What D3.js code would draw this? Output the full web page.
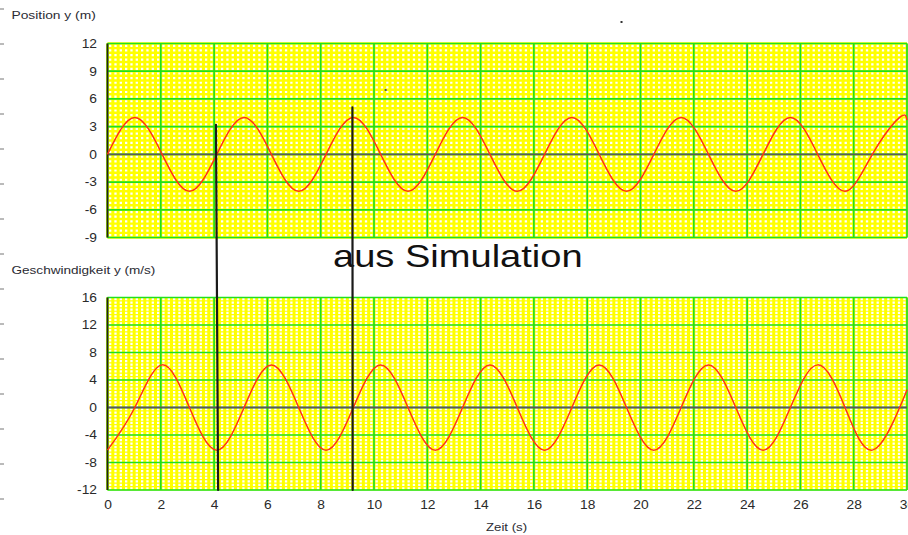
<!DOCTYPE html>
<html>
<head>
<meta charset="utf-8">
<script src="https://cdn.jsdelivr.net/npm/d3@7/dist/d3.min.js"></script>
<style>
  html, body { margin: 0; padding: 0; background: #fff; }
  svg { display: block; }
  text { font-family: "Liberation Sans", Arial, sans-serif; }
</style>
</head>
<body>
<script>
// ---- data ----
const times = [0, 1.025, 2.05, 3.075, 4.1, 5.125, 6.15, 7.175, 8.2, 9.225, 10.25, 11.275,
  12.3, 13.325, 14.35, 15.375, 16.4, 17.425, 18.45, 19.475, 20.5, 21.525, 22.55, 23.575,
  24.6, 25.625, 26.65, 27.675, 28.7, 29.725, 30];
const position = [0, 4, 0, -4, 0, 4, 0, -4, 0, 4, 0, -4,
  0, 4, 0, -4, 0, 4, 0, -4, 0, 4, 0, -4,
  0, 4, 0, -4, 0, 4, 3.7];
const velocity = [-6.2, 0, 6.2, 0, -6.2, 0, 6.2, 0, -6.2, 0, 6.2, 0,
  -6.2, 0, 6.2, 0, -6.2, 0, 6.2, 0, -6.2, 0, 6.2, 0,
  -6.2, 0, 6.2, 0, -6.2, 0, 2.6];
const xTickLabels = [0, 2, 4, 6, 8, 10, 12, 14, 16, 18, 20, 22, 24, 26, 28, 30];
const posTickLabels = [12, 9, 6, 3, 0, -3, -6, -9];
const velTickLabels = [16, 12, 8, 4, 0, -4, -8, -12];
const posTitle = "Position y (m)";
const velTitle = "Geschwindigkeit y (m/s)";
const xTitle = "Zeit (s)";
const annotationText = "aus Simulation";
// hand-drawn marker lines: [t, position] at top end, [t, velocity] at bottom end
const markers = [
  { top: [4.07, 3.2], bottom: [4.15, -12] },
  { top: [9.19, 5.1], bottom: [9.2, -12] }
];

const W = 908, H = 535;
const svg = d3.select("body").append("svg").attr("width", W).attr("height", H);

const x = d3.scaleLinear().domain([0, 30]).range([107.5, 907]);
const yPos = d3.scaleLinear().domain([-9, 12]).range([237.5, 43.5]);
const yVel = d3.scaleLinear().domain([-12, 16]).range([490, 297.5]);

const GREEN = "#1fe01f", YELLOW = "#ffff00", RED = "#ff3414";
const fmt = d => String(d);

// left-edge stray ticks (cropped axis in the original)
const edge = d3.scaleLinear().domain([0, 14]).range([8.5, 498.5]);
svg.append("g").attr("transform", "translate(4,0)")
  .call(d3.axisLeft(edge).ticks(14).tickSize(4).tickFormat(""))
  .call(g => g.select(".domain").remove())
  .call(g => g.selectAll("line").attr("stroke", "#777"));

function panel(y, majorTicks, minorStep, values) {
  const [y0, y1] = y.domain();
  const g = svg.append("g");
  const left = x(0), right = x(30), top = y(y1), bottom = y(y0);
  g.append("rect").attr("x", left).attr("y", top)
    .attr("width", right - left).attr("height", bottom - top).attr("fill", "#fff");

  // minor grid
  const xMinor = d3.range(0, 30.0001, 0.2);
  const yMinor = d3.range(y0, y1 + 0.0001, minorStep);
  const dx = x(0.2) - x(0), dy = y(y0) - y(y0 + minorStep);
  g.append("g").selectAll("line").data(xMinor).join("line")
    .attr("x1", d => x(d)).attr("x2", d => x(d)).attr("y1", top).attr("y2", bottom)
    .attr("stroke", YELLOW).attr("stroke-width", dx - 2.3);
  g.append("g").selectAll("line").data(yMinor).join("line")
    .attr("x1", left).attr("x2", right).attr("y1", d => y(d)).attr("y2", d => y(d))
    .attr("stroke", YELLOW).attr("stroke-width", Math.max(dy - 2.2, 1.2));

  // major grid
  g.append("g").selectAll("line").data(xTickLabels).join("line")
    .attr("x1", d => x(d)).attr("x2", d => x(d)).attr("y1", top).attr("y2", bottom)
    .attr("stroke", GREEN).attr("stroke-width", 1.7);
  g.append("g").selectAll("line").data(majorTicks).join("line")
    .attr("x1", left).attr("x2", right).attr("y1", d => y(d)).attr("y2", d => y(d))
    .attr("stroke", GREEN).attr("stroke-width", 1.7);

  // zero line
  g.append("line").attr("x1", left).attr("x2", right).attr("y1", y(0)).attr("y2", y(0))
    .attr("stroke", "#5a5a5a").attr("stroke-width", 1.8);
  // left axis line
  g.append("line").attr("x1", left).attr("x2", left).attr("y1", top).attr("y2", bottom)
    .attr("stroke", "#222").attr("stroke-width", 1.8);

  // y tick labels
  const ax = g.append("g").attr("transform", "translate(97,0)")
    .call(d3.axisLeft(y).tickValues(majorTicks).tickSize(0).tickPadding(0).tickFormat(fmt));
  ax.select(".domain").remove();
  ax.selectAll("text").attr("font-size", 12).attr("fill", "#2a2a2a")
    .attr("font-family", "Liberation Sans, Arial, sans-serif")
    .attr("transform", "scale(1.15,1)");

  // curve
  const line = d3.line().x((d, i) => x(times[i])).y(d => y(d)).curve(d3.curveNatural);
  g.append("path").datum(values).attr("d", line)
    .attr("fill", "none").attr("stroke", RED).attr("stroke-width", 1.5);
}

panel(yPos, posTickLabels, 0.5, position);
panel(yVel, velTickLabels, 0.5, velocity);

// x axis labels
const xa = svg.append("g").attr("transform", "translate(0,500)")
  .call(d3.axisBottom(x).tickValues(xTickLabels).tickSize(0).tickPadding(0).tickFormat(fmt));
xa.select(".domain").remove();
xa.selectAll("text").attr("font-size", 12).attr("fill", "#2a2a2a")
  .attr("font-family", "Liberation Sans, Arial, sans-serif")
  .attr("transform", "scale(1.15,1)");

// titles
function stretchedText(str, px, py, size, sx) {
  svg.append("text").attr("transform", `translate(${px},${py}) scale(${sx},1)`)
    .attr("font-size", size).attr("fill", "#2b2b33").text(str);
}
stretchedText(posTitle, 11.5, 19, 11.5, 1.2);
stretchedText(velTitle, 11.5, 274, 11.5, 1.18);
stretchedText(xTitle, 486, 531, 11.5, 1.15);

// annotation text
svg.append("text").attr("transform", "translate(333,267) scale(1.19,1)")
  .attr("font-size", 32).attr("fill", "#111").text(annotationText);

// hand-drawn marker lines
svg.append("g").selectAll("line").data(markers).join("line")
  .attr("x1", d => x(d.top[0])).attr("y1", d => yPos(d.top[1]))
  .attr("x2", d => x(d.bottom[0])).attr("y2", d => yVel(d.bottom[1]))
  .attr("stroke", "#1a1a1a").attr("stroke-width", 2.2).attr("stroke-linecap", "round");

// stray specks
svg.append("rect").attr("x", x(19.25)).attr("y", 21).attr("width", 2).attr("height", 2).attr("fill", "#333");
svg.append("rect").attr("x", x(10.4)).attr("y", 89).attr("width", 2).attr("height", 2).attr("fill", "#555");
</script>
</body>
</html>
